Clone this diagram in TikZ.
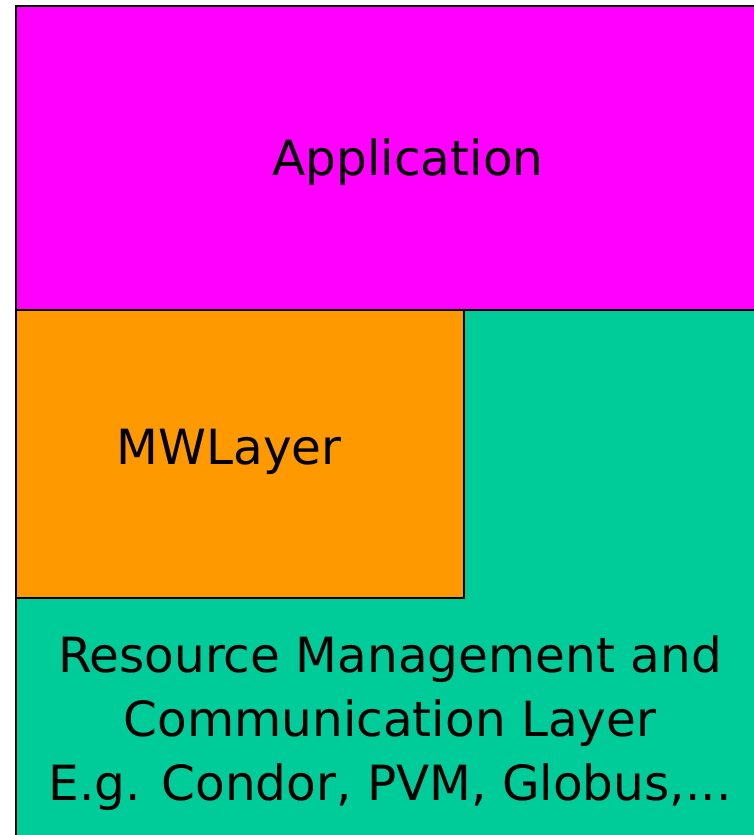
\documentclass[tikz,border=0pt]{standalone}
\usepackage{fontspec}
\setmainfont{DejaVu Sans}
\definecolor{appcol}{HTML}{FF00FF}
\definecolor{mwcol}{HTML}{FF9900}
\definecolor{rmcol}{HTML}{00CC99}
\begin{document}
\begin{tikzpicture}[x=1pt,y=-1pt,
  layer/.style={draw=black,line width=2.5pt},
  lbl/.style={font=\fontsize{48.5}{64}\selectfont,text=black,align=center,inner sep=0pt}]
\useasboundingbox (0,0) rectangle (754,835);
% resource management layer (spans the right column and the bottom)
\fill[rmcol] (16,310) rectangle (760,840);
\draw[line width=2.5pt] (16,310) -- (16,840);
% master-worker layer
\draw[layer,fill=mwcol] (16,310) rectangle (464,598);
% application layer
\draw[layer,fill=appcol] (16,6) rectangle (760,310);
% labels
\node[lbl] (app) at (408,162) {Application};
\node[lbl] (mw) at (229,452) {MWLayer};
\node[lbl] (rm) at (390,723) {Resource Management and\\Communication Layer\\E.g. Condor, PVM, Globus,...};
\end{tikzpicture}
\end{document}
